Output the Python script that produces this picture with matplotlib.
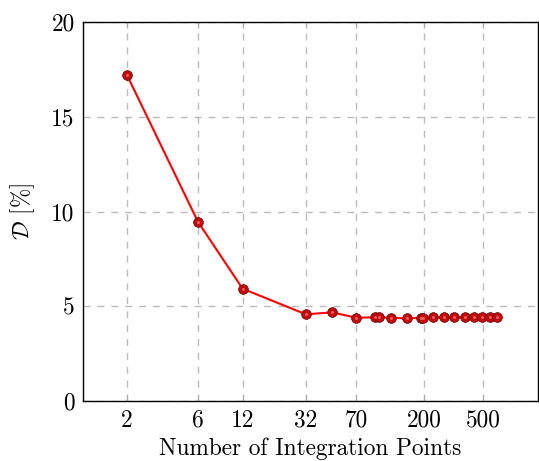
import matplotlib
matplotlib.use("Agg")
import matplotlib.pyplot as plt
from matplotlib.ticker import NullLocator, FixedLocator, FixedFormatter

# Data
points = [2, 6, 12, 32, 48, 70, 94, 100, 120, 154, 190, 198, 230, 272,
          320, 378, 432, 494, 560, 620]
d_pct = [17.2, 9.47, 5.93, 4.58, 4.68, 4.40, 4.42, 4.42, 4.40, 4.36, 4.40,
         4.40, 4.42, 4.42, 4.42, 4.42, 4.42, 4.42, 4.42, 4.42]

xticks = [2, 6, 12, 32, 70, 200, 500]
yticks = [0, 5, 10, 15, 20]

plt.rcParams['font.family'] = 'serif'
plt.rcParams['font.serif'] = ['cmr10', 'DejaVu Serif']
plt.rcParams['mathtext.fontset'] = 'cm'
plt.rcParams['axes.formatter.use_mathtext'] = True

fig = plt.figure(figsize=(5.39, 4.61), dpi=100)
ax = fig.add_axes([0.154, 0.130, 0.844, 0.822])

ax.plot(points, d_pct, '-', color='red', lw=1.5, zorder=3)
# ball-like markers: dark body plus a small highlight
ax.plot(points, d_pct, 'o', ms=7, mfc='#c00c0c', mec='#660000', mew=0.5, zorder=4)
ax.plot(points, d_pct, 'o', ms=2.2, mfc='#ff7070', mec='none', alpha=0.8, zorder=5)

ax.set_xscale('log')
ax.set_xlim(1.01, 1170)
ax.set_ylim(0, 20)
ax.xaxis.set_major_locator(FixedLocator(xticks))
ax.xaxis.set_major_formatter(FixedFormatter([str(t) for t in xticks]))
ax.xaxis.set_minor_locator(NullLocator())
ax.set_yticks(yticks)
ax.set_yticklabels([str(t) for t in yticks])

ax.grid(True, color='#bbbbbb', linestyle=(0, (5, 5)), lw=1.0)
ax.tick_params(axis='x', direction='in', length=4, color='#aaaaaa', top=True,
               labelsize=16.8, pad=6)
ax.tick_params(axis='y', length=0, labelsize=16.8, pad=6)
for s in ax.spines.values():
    s.set_linewidth(1.0)

ax.set_xlabel('Number of Integration Points', fontsize=16.8, labelpad=4)
ax.set_ylabel(r'$\mathcal{D}$ [%]', fontsize=16.8, labelpad=10)

fig.savefig('out.png', dpi=100)
